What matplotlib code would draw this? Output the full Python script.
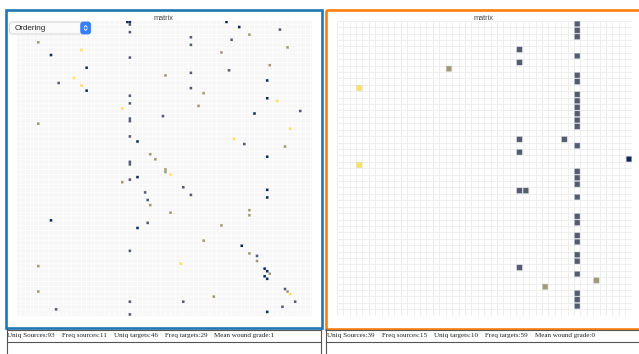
import matplotlib
matplotlib.use("Agg")
import matplotlib.pyplot as plt
from matplotlib.patches import Rectangle, FancyBboxPatch
from matplotlib.collections import PatchCollection

# cell colours by link kind
kind_colors = {
    "navy": "#0b2a5b",
    "grey": "#565b6d",
    "tan": "#a09a77",
    "yellow": "#fbe15c",
}

# left matrix (116 x 116), (row, col) of each filled cell
left_size = 116
left_navy = [(0, 43), (0, 44), (0, 82), (2, 87), (13, 13), (18, 27), (23, 98), (27, 27),
             (30, 98), (36, 93), (47, 47), (53, 98), (61, 47), (66, 98), (69, 98), (78, 13),
             (81, 47), (88, 88), (97, 97), (98, 98), (100, 97), (101, 98), (114, 98)]
left_grey = [(1, 44), (3, 103), (4, 44), (6, 68), (7, 84), (9, 68), (14, 44), (19, 83),
             (20, 68), (24, 16), (26, 68), (29, 44), (32, 44), (35, 111), (37, 57), (38, 44),
             (39, 44), (45, 44), (48, 89), (55, 44), (56, 44), (62, 44), (65, 65), (67, 50),
             (68, 68), (70, 51), (79, 51), (90, 44), (92, 94), (105, 105), (110, 44),
             (110, 65), (110, 109), (112, 104), (113, 15), (115, 44)]
left_tan = [(5, 91), (8, 8), (10, 106), (12, 80), (17, 99), (21, 58), (28, 73), (33, 71),
            (40, 8), (49, 105), (52, 52), (54, 54), (58, 58), (59, 58), (63, 41), (72, 52),
            (74, 91), (75, 60), (76, 91), (80, 80), (86, 73), (91, 91), (94, 94), (96, 8),
            (99, 99), (106, 8), (106, 106), (108, 77)]
left_yellow = [(11, 25), (22, 22), (25, 25), (31, 102), (34, 41), (42, 107), (46, 85),
               (60, 60), (95, 64), (107, 107)]

# right matrix (46 x 46)
right_size = 46
right_navy = [(21, 45)]
right_grey = [(0, 37), (1, 37), (2, 37), (5, 37), (8, 37), (9, 37), (11, 37), (12, 37),
              (13, 37), (14, 37), (15, 37), (16, 37), (19, 37), (23, 37), (24, 37), (25, 37),
              (27, 37), (30, 37), (31, 37), (33, 37), (34, 37), (36, 37), (37, 37), (39, 37),
              (42, 37), (43, 37), (44, 37), (4, 28), (6, 28), (18, 28), (20, 28), (26, 28),
              (38, 28), (26, 29), (18, 35)]
right_tan = [(7, 17), (40, 40), (41, 32)]
right_yellow = [(10, 3), (22, 3)]

left_stats = ["Uniq Sources:93", "Freq sources:11", "Uniq targets:46",
              "Freq targets:29", "Mean wound grade:1"]
right_stats = ["Uniq Sources:39", "Freq sources:15", "Uniq targets:10",
               "Freq targets:59", "Mean wound grade:0"]

W, H = 639, 354
fig = plt.figure(figsize=(W / 100, H / 100), dpi=100)
fig.patch.set_facecolor("white")


def draw_matrix(x0, size, cells, grid_lw, grid_color, inset, edge_lw):
    ax = fig.add_axes([x0 / W, 1 - 315.7 / H, 295 / W, 295 / H])
    ax.set_xlim(0, size)
    ax.set_ylim(size, 0)
    ax.axis("off")
    ticks = list(range(size + 1))
    ax.vlines(ticks, 0, size, color=grid_color, lw=grid_lw, zorder=1)
    ax.hlines(ticks, 0, size, color=grid_color, lw=grid_lw, zorder=1)
    for kind, pts in cells.items():
        rects = [Rectangle((c + inset, r + inset), 1 - 2 * inset, 1 - 2 * inset)
                 for r, c in pts]
        pc = PatchCollection(rects, facecolor=kind_colors[kind],
                             edgecolor="#d8dde6" if edge_lw else "none",
                             lw=edge_lw, zorder=2, snap=False)
        ax.add_collection(pc)
    return ax


draw_matrix(16.7, left_size, {"navy": left_navy, "grey": left_grey,
                              "tan": left_tan, "yellow": left_yellow},
            0.25, "#e9e9e9", 0.0, 0)
draw_matrix(336.7, right_size, {"navy": right_navy, "grey": right_grey,
                                "tan": right_tan, "yellow": right_yellow},
            0.6, "#ededed", 0.06, 0.3)

# overlay in pixel coordinates for frames, titles and the footer
ov = fig.add_axes([0, 0, 1, 1], zorder=5)
ov.set_xlim(0, W)
ov.set_ylim(H, 0)
ov.axis("off")
ov.patch.set_alpha(0)

ov.add_patch(Rectangle((6.3, 10.2), 315.9, 318.2, fill=False,
                       edgecolor="#1f77b4", lw=1.9))
ov.add_patch(Rectangle((326.0, 9.7), 330, 318.8, fill=False,
                       edgecolor="#ff7f0e", lw=1.9))

for cx in (164, 484):
    ov.text(cx, 18.6, "matrix", ha="center", va="center", fontsize=5.3,
            family="Liberation Sans", color="#444444")

# "Ordering" select box
ov.add_patch(FancyBboxPatch((9.5, 22), 81, 12, boxstyle="round,pad=0,rounding_size=2.5",
                            facecolor="#fbfbfb", edgecolor="#c2c2c2", lw=0.5))
ov.add_patch(FancyBboxPatch((80.7, 22), 10, 12, boxstyle="round,pad=0,rounding_size=2.5",
                            facecolor="#3a7ff2", edgecolor="#3a7ff2", lw=0.5))
ov.plot([84.2, 85.7, 87.2], [27.2, 25.5, 27.2], color="white", lw=0.6)
ov.plot([84.2, 85.7, 87.2], [28.8, 30.5, 28.8], color="white", lw=0.6)
ov.text(14.5, 28.2, "Ordering", ha="left", va="center", fontsize=5.9,
        family="Liberation Sans", color="#222222")

# footer tables
box_color = "#555555"
for x_left, x_right in ((7, 321), (326, 660)):
    ov.plot([x_left, x_right], [329.6, 329.6], color=box_color, lw=0.8)
    ov.plot([x_left, x_right], [341.8, 341.8], color=box_color, lw=0.8)
    ov.plot([x_left, x_left], [329, 356], color=box_color, lw=0.8)
    ov.plot([x_right, x_right], [329, 356], color=box_color, lw=0.8)

fig.canvas.draw()
renderer = fig.canvas.get_renderer()
for x_start, labels in ((7.3, left_stats), (327.3, right_stats)):
    x = x_start
    for s in labels:
        t = ov.text(x, 336, s, ha="left", va="center", fontsize=5.1,
                    family="Liberation Serif", color="#222222")
        bb = t.get_window_extent(renderer)
        x = bb.x1 + 7

fig.savefig("out.png", dpi=100)
